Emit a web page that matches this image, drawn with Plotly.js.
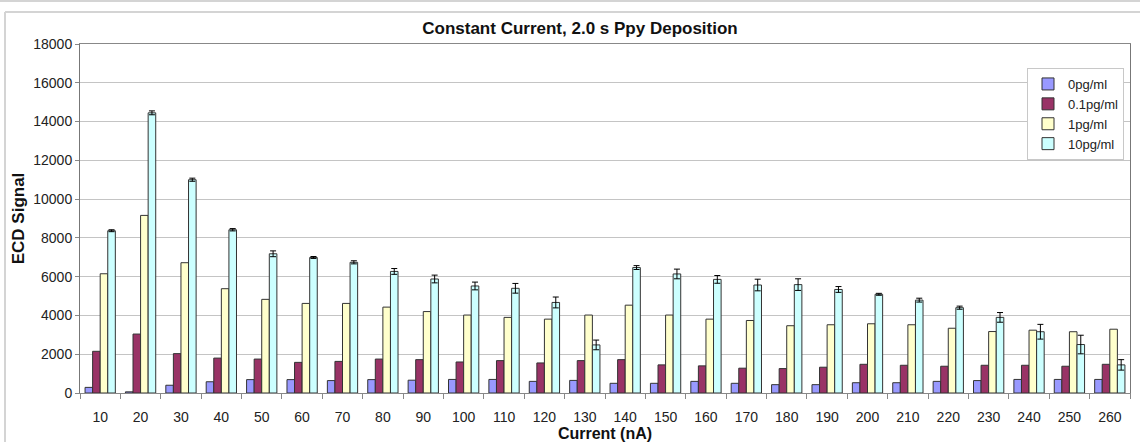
<!DOCTYPE html>
<html>
<head>
<meta charset="utf-8">
<script src="https://cdn.plot.ly/plotly-3.0.1.min.js"></script>
<style>html,body{margin:0;padding:0;background:#fff;}#chart{width:1140px;height:442px;}</style>
</head>
<body>
<div id="chart"></div>
<script>
const currents = ["10","20","30","40","50","60","70","80","90","100","110","120","130","140","150","160","170","180","190","200","210","220","230","240","250","260"];
const seriesNames = ["0pg/ml","0.1pg/ml","1pg/ml","10pg/ml"];
const s0 = [290,60,400,580,690,690,640,690,660,700,700,600,650,500,500,600,500,430,430,530,530,600,640,700,700,700];
const s01 = [2150,3040,2030,1800,1750,1580,1630,1750,1720,1600,1670,1550,1670,1720,1450,1400,1280,1260,1330,1480,1430,1380,1430,1430,1380,1480];
const s1 = [6150,9160,6720,5380,4830,4620,4620,4430,4200,4020,3900,3810,4020,4530,4020,3810,3740,3470,3520,3570,3520,3340,3170,3240,3160,3290];
const s10 = [8370,14450,11000,8420,7180,6990,6740,6270,5880,5520,5400,4670,2480,6470,6140,5860,5570,5590,5340,5090,4790,4400,3900,3160,2500,1450];
const s10err = [50,100,80,60,150,50,80,150,200,200,250,280,250,100,250,200,300,300,150,50,100,80,250,380,480,270];
const colors = ["#9999FF","#993366","#FFFFCC","#CCFFFF"];

const vals = [s0, s01, s1, s10];
const traces = vals.map((v, i) => {
  const t = {
    type: 'bar', name: seriesNames[i], x: currents, y: v,
    marker: {color: colors[i], line: {color: '#333333', width: 1}},
    hoverinfo: 'x+y+name'
  };
  if (i === 3) {
    t.error_y = {type: 'data', array: s10err, visible: true, color: '#000', thickness: 1, width: 3};
  }
  return t;
});

const PL = 80, PR = 1130, PT = 44, PB = 393;
const px = x => (x - PL) / (PR - PL);
const py = y => (PB - y) / (PB - PT);
const frameColor = '#d4d4d4';

const layout = {
  width: 1140, height: 442,
  margin: {l: PL, r: 1140 - PR, t: PT, b: 442 - PB, pad: 0},
  paper_bgcolor: '#fff', plot_bgcolor: '#fff',
  font: {family: 'Liberation Sans, Arial, sans-serif', color: '#222', size: 14},
  title: {text: 'Constant Current, 2.0 s Ppy Deposition', font: {size: 17, weight: 'bold', color: '#111'},
          x: 580/1140, xanchor: 'center', xref: 'container', y: 1 - 28/442, yanchor: 'middle', yref: 'container'},
  barmode: 'group', bargap: 0.25, bargroupgap: 0,
  showlegend: true,
  legend: {x: px(1124), y: py(68), xanchor: 'right', yanchor: 'top', bgcolor: '#fff', itemwidth: 30,
           bordercolor: '#c8c8c8', borderwidth: 1, font: {size: 13, color: '#222'}},
  xaxis: {type: 'category', title: {text: 'Current (nA)', font: {size: 16, weight: 'bold', color: '#111'}, standoff: 0},
          ticks: 'outside', tickson: 'boundaries', ticklen: 5, tickcolor: '#888', ticklabelstandoff: 11,
          showline: true, linecolor: '#888', linewidth: 1, mirror: true,
          tickfont: {size: 14}, showgrid: false, zeroline: false},
  yaxis: {range: [0, 18000], dtick: 2000, tickformat: 'd',
          title: {text: 'ECD Signal', font: {size: 17, weight: 'bold', color: '#111'}, standoff: 4},
          ticks: 'outside', ticklen: 4, tickcolor: '#888', showline: true, linecolor: '#777', linewidth: 1, mirror: true,
          gridcolor: '#c4c4c4', gridwidth: 1, zeroline: false, tickfont: {size: 14}},
  shapes: [
    {type: 'line', xref: 'paper', yref: 'paper', x0: px(0), x1: px(1140), y0: py(1), y1: py(1), line: {color: frameColor, width: 2}},
    {type: 'line', xref: 'paper', yref: 'paper', x0: px(5), x1: px(1140), y0: py(12), y1: py(12), line: {color: frameColor, width: 2}},
    {type: 'line', xref: 'paper', yref: 'paper', x0: px(5), x1: px(5), y0: py(12), y1: py(442), line: {color: frameColor, width: 2}}
  ]
};

Plotly.newPlot('chart', traces, layout, {displayModeBar: false, responsive: false});
</script>
</body>
</html>
